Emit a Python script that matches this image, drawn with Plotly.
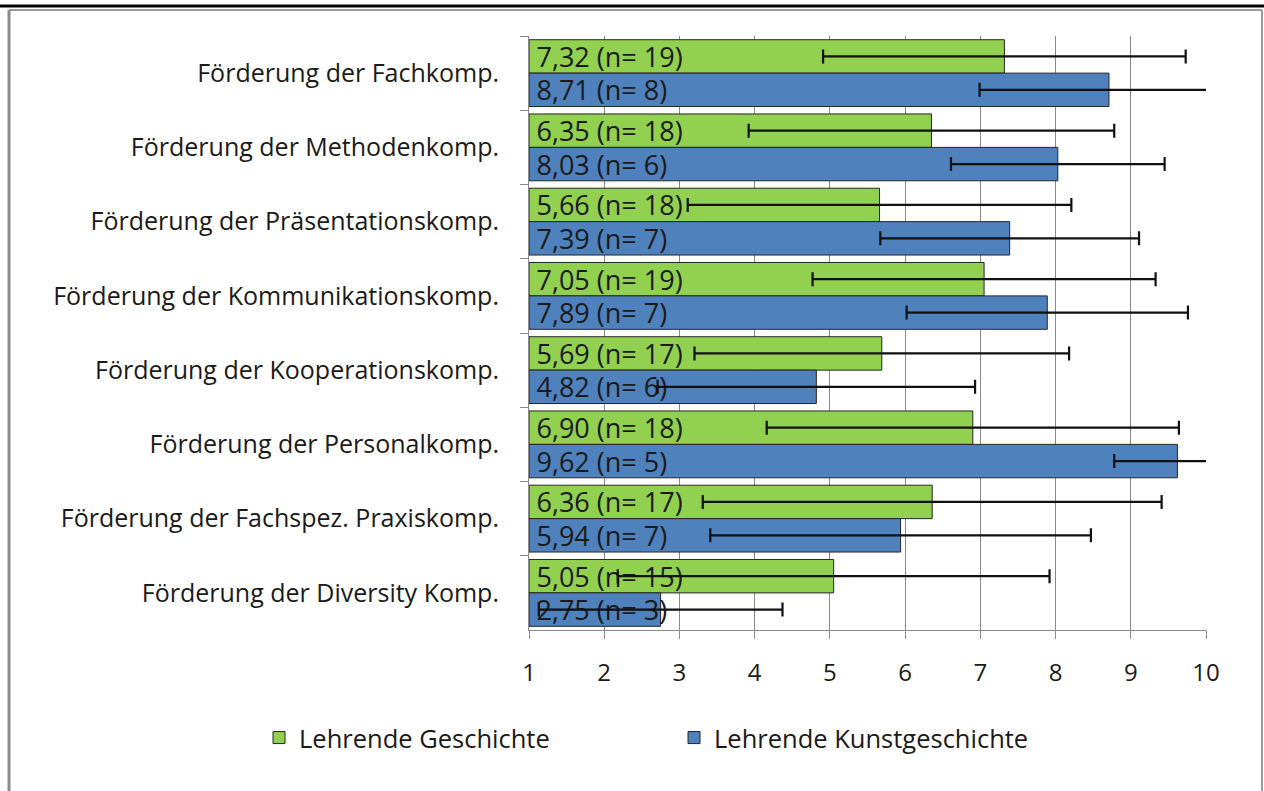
import plotly.graph_objects as go

categories = [
    "Förderung der Fachkomp.",
    "Förderung der Methodenkomp.",
    "Förderung der Präsentationskomp.",
    "Förderung der Kommunikationskomp.",
    "Förderung der Kooperationskomp.",
    "Förderung der Personalkomp.",
    "Förderung der Fachspez. Praxiskomp.",
    "Förderung der Diversity Komp.",
]
series_names = ["Lehrende Geschichte", "Lehrende Kunstgeschichte"]

geschichte_mean = [7.32, 6.35, 5.66, 7.05, 5.69, 6.90, 6.36, 5.05]
geschichte_n = [19, 18, 18, 19, 17, 18, 17, 15]
geschichte_err = [2.41, 2.43, 2.55, 2.28, 2.49, 2.74, 3.05, 2.87]

kunst_mean = [8.71, 8.03, 7.39, 7.89, 4.82, 9.62, 5.94, 2.75]
kunst_n = [8, 6, 7, 7, 6, 5, 7, 3]
kunst_err = [1.72, 1.42, 1.72, 1.87, 2.11, 0.84, 2.53, 1.62]

tick_vals = [1, 2, 3, 4, 5, 6, 7, 8, 9, 10]
axis_base = 1

colors = ["#92D050", "#4F81BD"]
FONT = "Open Sans"
TEXT_COLOR = "#1a1a1a"
GRID = "#8a8a8a"

def fmt(v, n):
    return "\u2009" + f"{v:.2f}".replace(".", ",") + f" (n= {n})"

fig = go.Figure()
for name, means, ns, errs, col in [
    (series_names[0], geschichte_mean, geschichte_n, geschichte_err, colors[0]),
    (series_names[1], kunst_mean, kunst_n, kunst_err, colors[1]),
]:
    fig.add_trace(go.Bar(
        name=name,
        y=categories,
        x=[m - axis_base for m in means],
        base=axis_base,
        orientation="h",
        marker=dict(color=col, line=dict(color="#262626", width=1)),
        text=[fmt(m, n) for m, n in zip(means, ns)],
        textposition="inside",
        insidetextanchor="start",
        constraintext="none",
        textfont=dict(family=FONT, size=27, color=TEXT_COLOR),
        error_x=dict(type="data", array=errs, visible=True, color="#111111",
                     thickness=2.2, width=7),
        cliponaxis=True,
        hoverinfo="skip",
    ))

# plot-area pixel geometry used to place the frame
L, R, T, B = 529, 1206, 36, 630
W, H = R - L, B - T
def px(x):
    return (x - L) / W
def py(y):
    return (B - y) / H

shapes = [
    dict(type="line", xref="paper", yref="paper", x0=px(0), x1=px(1264), y0=py(6), y1=py(6),
         line=dict(color="#000000", width=3)),
    dict(type="line", xref="paper", yref="paper", x0=px(9), x1=px(1262), y0=py(10), y1=py(10),
         line=dict(color="#9a9a9a", width=2)),
    dict(type="line", xref="paper", yref="paper", x0=px(9), x1=px(9), y0=py(10), y1=py(800),
         line=dict(color="#8a8a8a", width=3)),
    dict(type="line", xref="paper", yref="paper", x0=px(1262), x1=px(1262), y0=py(10), y1=py(800),
         line=dict(color="#9a9a9a", width=2)),
]

fig.update_layout(
    width=1264, height=791,
    margin=dict(l=L, r=1264 - R, t=T, b=791 - B, pad=0),
    paper_bgcolor="white", plot_bgcolor="white",
    barmode="group", bargap=0.1, bargroupgap=0,
    font=dict(family=FONT, size=25, color=TEXT_COLOR),
    showlegend=True,
    legend=dict(orientation="h", x=px(259), xanchor="left", y=py(738), yanchor="middle",
                font=dict(family=FONT, size=25.5, color=TEXT_COLOR),
                entrywidth=370, itemwidth=30, traceorder="normal"),
    shapes=shapes,
    xaxis=dict(range=[1, 10], tickvals=tick_vals, showgrid=True, gridcolor=GRID, gridwidth=1,
               showline=True, linecolor=GRID, linewidth=1, ticks="outside", ticklen=8,
               tickcolor=GRID, zeroline=False, ticklabelstandoff=13,
               tickfont=dict(family=FONT, size=24, color=TEXT_COLOR), fixedrange=True),
    yaxis=dict(categoryorder="array", categoryarray=categories, autorange="reversed",
               showline=True, linecolor=GRID, linewidth=1, ticks="outside", ticklen=8,
               tickcolor=GRID, tickson="boundaries", showgrid=False, ticklabelstandoff=24,
               tickfont=dict(family=FONT, size=25, color=TEXT_COLOR), fixedrange=True),
)

fig.write_html("out.html", config={"displayModeBar": False},
               post_script="document.body.style.margin='0';")
